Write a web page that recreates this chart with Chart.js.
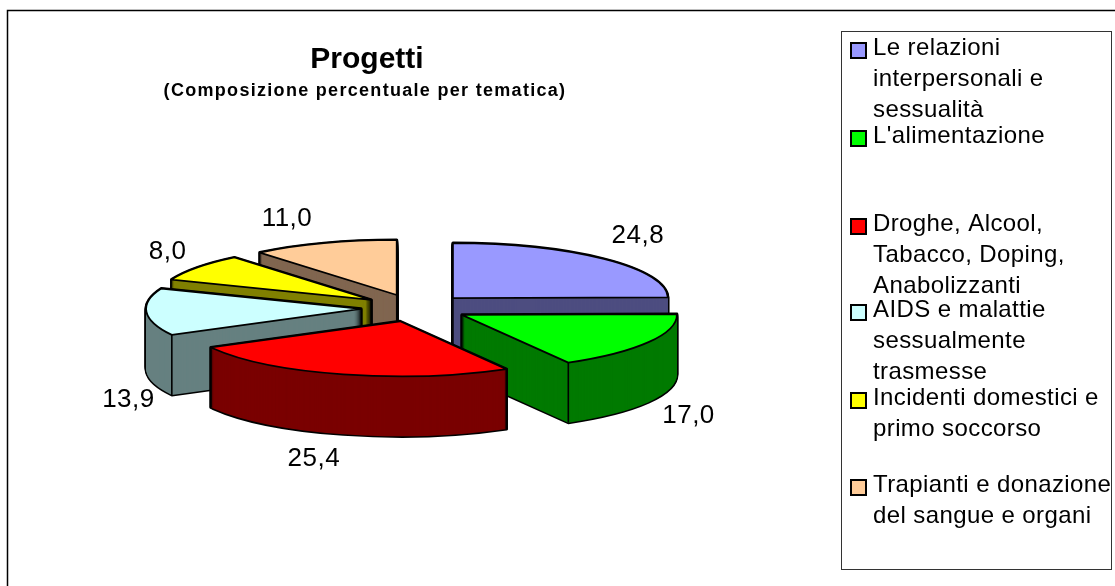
<!DOCTYPE html>
<html>
<head>
<meta charset="utf-8">
<style>html,body{margin:0;padding:0;background:#fff}canvas{display:block}</style>
<script src="https://cdn.jsdelivr.net/npm/chart.js@4"></script>
</head>
<body>
<canvas id="c" width="1115" height="586"></canvas>
<script>
const categories = [
  ["Le relazioni", "interpersonali e", "sessualità"],
  ["L'alimentazione"],
  ["Droghe, Alcool,", "Tabacco, Doping,", "Anabolizzanti"],
  ["AIDS e malattie", "sessualmente", "trasmesse"],
  ["Incidenti domestici e", "primo soccorso"],
  ["Trapianti e donazione", "del sangue e organi"]
];
const values = [24.8, 17.0, 25.4, 13.9, 8.0, 11.0];
const valueLabels = ["24,8", "17,0", "25,4", "13,9", "8,0", "11,0"];
const titleText = "Progetti";
const subtitleText = "(Composizione percentuale per tematica)";

const topColors = ["#9999FF", "#00FF00", "#FF0000", "#CCFFFF", "#FFFF00", "#FFCC99"];
const wallColors = ["#4D4D80", "#007A00", "#7A0000", "#668080", "#808000", "#806650"];

// presentation settings
const SQUASH = 0.256, CENTER_Y = 308, DEPTH = 60, EXPLODE = 54;
const drawOrder = [5, 4, 3, 0, 1, 2];
const labelNudge = [[34,-23],[40,74],[-27,85],[-18,88],[-30,-16],[-37,-24]];
const legendBaselines = [55, 143, 231, 317, 405, 492];
const LEGEND_LINE = 31;

function geom(arc) {
  const p = arc.getProps(['x','y','startAngle','endAngle','outerRadius']);
  const mid = (p.startAngle + p.endAngle) / 2;
  return {...p, mid,
    ax: p.x + Math.cos(mid) * EXPLODE,
    ay: CENTER_Y + Math.sin(mid) * EXPLODE * SQUASH};
}
function tracePath(ctx, g, dy) {
  ctx.beginPath();
  ctx.save();
  ctx.translate(g.ax, g.ay + dy);
  ctx.scale(1, SQUASH);
  ctx.moveTo(0, 0);
  ctx.arc(0, 0, g.outerRadius, g.startAngle, g.endAngle);
  ctx.closePath();
  ctx.restore();
}
function rim(g, angle) {
  return [g.ax + Math.cos(angle) * g.outerRadius, g.ay + Math.sin(angle) * g.outerRadius * SQUASH];
}
function vline(ctx, x, y) {
  ctx.beginPath(); ctx.moveTo(x, y); ctx.lineTo(x, y + DEPTH); ctx.stroke();
}

const pie3d = {
  id: 'pie3d',
  beforeDatasetsDraw(chart) {
    const ctx = chart.ctx;
    const arcs = chart.getDatasetMeta(0).data;
    ctx.save();
    ctx.lineJoin = 'round';
    for (const i of drawOrder) {
      const arc = arcs[i], g = geom(arc);
      // silhouette of the extruded slice
      ctx.strokeStyle = '#000'; ctx.lineWidth = 3;
      for (let d = DEPTH; d >= 0; d -= 1) { tracePath(ctx, g, d); ctx.stroke(); }
      ctx.fillStyle = wallColors[i];
      for (let d = DEPTH; d >= 0; d -= 1) { tracePath(ctx, g, d); ctx.fill(); }
      // visible vertical edges
      ctx.lineWidth = 1.6;
      if (Math.sin(g.mid) < 0.05) vline(ctx, g.ax, g.ay);
      for (const a of [g.startAngle, g.endAngle]) {
        if (Math.sin(a) > 0) { const [x, y] = rim(g, a); vline(ctx, x, y); }
      }
      // top face, drawn by the library's arc element in a squashed space
      ctx.save();
      ctx.translate(g.ax - g.x, g.ay);
      ctx.scale(1, SQUASH);
      ctx.translate(0, -g.y);
      arc.draw(ctx);
      ctx.restore();
      ctx.lineWidth = 1.8; ctx.strokeStyle = '#000';
      tracePath(ctx, g, 0); ctx.stroke();
    }
    // value labels
    ctx.fillStyle = '#000';
    ctx.font = '26px "Liberation Sans"';
    ctx.letterSpacing = '0.5px';
    ctx.textAlign = 'center'; ctx.textBaseline = 'middle';
    arcs.forEach((arc, i) => {
      const g = geom(arc), [x, y] = rim(g, g.mid);
      ctx.fillText(valueLabels[i], x + labelNudge[i][0], y + labelNudge[i][1]);
    });
    ctx.letterSpacing = '0px';
    ctx.restore();
    return false;
  },
  afterDraw(chart) {
    const ctx = chart.ctx;
    ctx.save();
    // outer frame
    ctx.strokeStyle = '#000'; ctx.lineWidth = 1.5;
    ctx.beginPath(); ctx.moveTo(7.5, 586); ctx.lineTo(7.5, 10.5); ctx.lineTo(1115, 10.5); ctx.stroke();
    // titles
    ctx.fillStyle = '#000'; ctx.textAlign = 'center'; ctx.textBaseline = 'alphabetic';
    ctx.font = 'bold 30px "Liberation Sans"';
    ctx.fillText(titleText, 367, 68);
    ctx.font = 'bold 18px "Liberation Sans"';
    ctx.letterSpacing = '1.3px';
    ctx.fillText(subtitleText, 365, 96);
    ctx.letterSpacing = '0.4px';
    // legend box
    ctx.strokeStyle = '#333'; ctx.lineWidth = 1;
    ctx.strokeRect(841.5, 31.5, 270, 538);
    ctx.textAlign = 'left';
    ctx.font = '24px "Liberation Sans"';
    categories.forEach((lines, i) => {
      const b = legendBaselines[i];
      ctx.fillStyle = topColors[i];
      ctx.fillRect(851, b - 12, 15, 15);
      ctx.strokeStyle = '#000'; ctx.lineWidth = 2;
      ctx.strokeRect(851, b - 12, 15, 15);
      ctx.fillStyle = '#000';
      lines.forEach((t, k) => ctx.fillText(t, 873, b + k * LEGEND_LINE));
    });
    ctx.restore();
  }
};

new Chart(document.getElementById('c'), {
  type: 'pie',
  data: {
    labels: categories.map(l => l.join(' ')),
    datasets: [{ data: values, backgroundColor: topColors, borderWidth: 0 }]
  },
  options: {
    responsive: false,
    animation: false,
    layout: { padding: { left: 0, right: 285, top: 0, bottom: 156 } },
    plugins: { legend: { display: false }, title: { display: false }, tooltip: { enabled: false } }
  },
  plugins: [pie3d]
});
</script>
</body>
</html>
